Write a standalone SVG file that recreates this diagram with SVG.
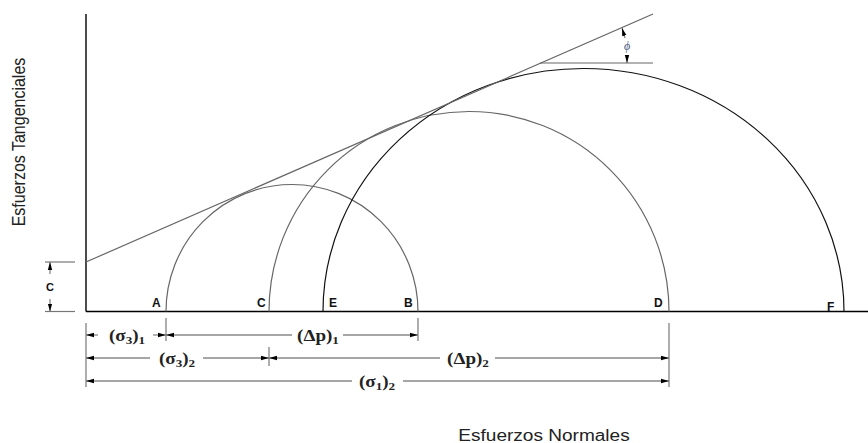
<svg xmlns="http://www.w3.org/2000/svg" width="868" height="443" viewBox="0 0 868 443">
<style>
.axis{stroke:#000;stroke-width:1.4;fill:none}
.circ{stroke:#666;stroke-width:1.2;fill:none}
.circ3{stroke:#111;stroke-width:1.2;fill:none}
.env{stroke:#666;stroke-width:1.2;fill:none}
.dim{stroke:#888;stroke-width:1.3;fill:none}
.ext{stroke:#777;stroke-width:1.2;fill:none}
.arr{marker-start:url(#ah);marker-end:url(#ah)}
.pt{font-family:"Liberation Sans",Arial,sans-serif;font-weight:bold;font-size:12px;fill:#111}
.dl{font-family:"Liberation Serif","DejaVu Serif",serif;font-weight:bold;font-size:16px;fill:#222;text-anchor:middle}
.sub{font-size:11px}
.ax{font-family:"Liberation Sans",Arial,sans-serif;font-size:16px;fill:#222;text-anchor:middle}
</style>
<defs>
<marker id="ah" markerUnits="userSpaceOnUse" markerWidth="10" markerHeight="6" refX="8" refY="3" orient="auto-start-reverse">
<path d="M0,0.8 L8,3 L0,5.2 Z" fill="#000"/>
</marker>
</defs>
<g id="axes">
<line class="axis" x1="86" y1="14" x2="86" y2="311.5"/>
<line class="axis" x1="86" y1="311.5" x2="868" y2="311.5"/>
</g>
<g id="circles">
<path id="circle1" class="circ" d="M166,311.5 A126,127 0 0 1 418,311.5"/>
<path id="circle2" class="circ" d="M269,311.5 A200,200 0 0 1 669,311.5"/>
<path id="circle3" class="circ3" d="M323,311.5 A260.5,243 0 0 1 844,311.5"/>
</g>
<g id="envelope">
<line class="env" x1="86" y1="262" x2="653" y2="14"/>
<line class="env" x1="540" y1="63" x2="653" y2="63"/>
</g>
<g id="phi">
<line class="dim" x1="625" y1="38" x2="622" y2="28" style="marker-end:url(#ah)"/>
<line class="dim" x1="627" y1="55" x2="627" y2="63" style="marker-end:url(#ah)"/>
<text x="627" y="50" text-anchor="middle" style="font-family:'Liberation Serif',serif;font-style:italic;font-size:12px;fill:#4a5a80">ϕ</text>
</g>
<g id="c-dim">
<line class="ext" x1="45" y1="262" x2="75" y2="262"/>
<line class="ext" x1="45" y1="311.5" x2="75" y2="311.5"/>
<line class="dim" x1="50" y1="274" x2="50" y2="262" style="marker-end:url(#ah)"/>
<line class="dim" x1="50" y1="299" x2="50" y2="311.5" style="marker-end:url(#ah)"/>
<text class="pt" x="50" y="291" text-anchor="middle" style="font-size:11px">C</text>
</g>
<g id="points">
<text class="pt" x="152" y="307">A</text>
<text class="pt" x="257" y="307">C</text>
<text class="pt" x="329" y="307">E</text>
<text class="pt" x="404" y="307">B</text>
<text class="pt" x="654" y="307">D</text>
<text class="pt" x="827" y="311">F</text>
</g>
<g id="dimensions">
<line class="ext" x1="86" y1="323" x2="86" y2="387"/>
<line class="ext" x1="166" y1="318" x2="166" y2="341"/>
<line class="ext" x1="418" y1="318" x2="418" y2="341"/>
<line class="ext" x1="269" y1="347" x2="269" y2="366"/>
<line class="ext" x1="669" y1="323" x2="669" y2="387"/>
<!-- row 1 -->
<line class="dim" x1="98" y1="335" x2="86" y2="335" style="marker-end:url(#ah)"/>
<line class="dim" x1="153" y1="335" x2="166" y2="335" style="marker-end:url(#ah)"/>
<line class="dim" x1="292" y1="335" x2="166" y2="335" style="marker-end:url(#ah)"/>
<line class="dim" x1="343" y1="335" x2="418" y2="335" style="marker-end:url(#ah)"/>
<!-- row 2 -->
<line class="dim" x1="150" y1="358" x2="86" y2="358" style="marker-end:url(#ah)"/>
<line class="dim" x1="203" y1="358" x2="269" y2="358" style="marker-end:url(#ah)"/>
<line class="dim" x1="440" y1="358" x2="269" y2="358" style="marker-end:url(#ah)"/>
<line class="dim" x1="495" y1="358" x2="669" y2="358" style="marker-end:url(#ah)"/>
<!-- row 3 -->
<line class="dim" x1="352" y1="381" x2="86" y2="381" style="marker-end:url(#ah)"/>
<line class="dim" x1="403" y1="381" x2="669" y2="381" style="marker-end:url(#ah)"/>
<text class="dl" transform="translate(127,341) scale(1.19,1)">(σ<tspan class="sub" dy="3">3</tspan><tspan dy="-3">)</tspan><tspan class="sub" dy="3">1</tspan></text>
<text class="dl" transform="translate(318,341) scale(1.19,1)">(Δp<tspan dy="0">)</tspan><tspan class="sub" dy="3">1</tspan></text>
<text class="dl" transform="translate(177,364) scale(1.19,1)">(σ<tspan class="sub" dy="3">3</tspan><tspan dy="-3">)</tspan><tspan class="sub" dy="3">2</tspan></text>
<text class="dl" transform="translate(468,364) scale(1.19,1)">(Δp<tspan dy="0">)</tspan><tspan class="sub" dy="3">2</tspan></text>
<text class="dl" transform="translate(377,387) scale(1.19,1)">(σ<tspan class="sub" dy="3">1</tspan><tspan dy="-3">)</tspan><tspan class="sub" dy="3">2</tspan></text>
</g>
<g id="axis-labels">
<text class="ax" transform="translate(25,142) scale(1.19,1) rotate(-90)" x="0" y="0">Esfuerzos Tangenciales</text>
<text class="ax" transform="translate(544,441) scale(1.19,1)" x="0" y="0">Esfuerzos Normales</text>
</g>
</svg>
